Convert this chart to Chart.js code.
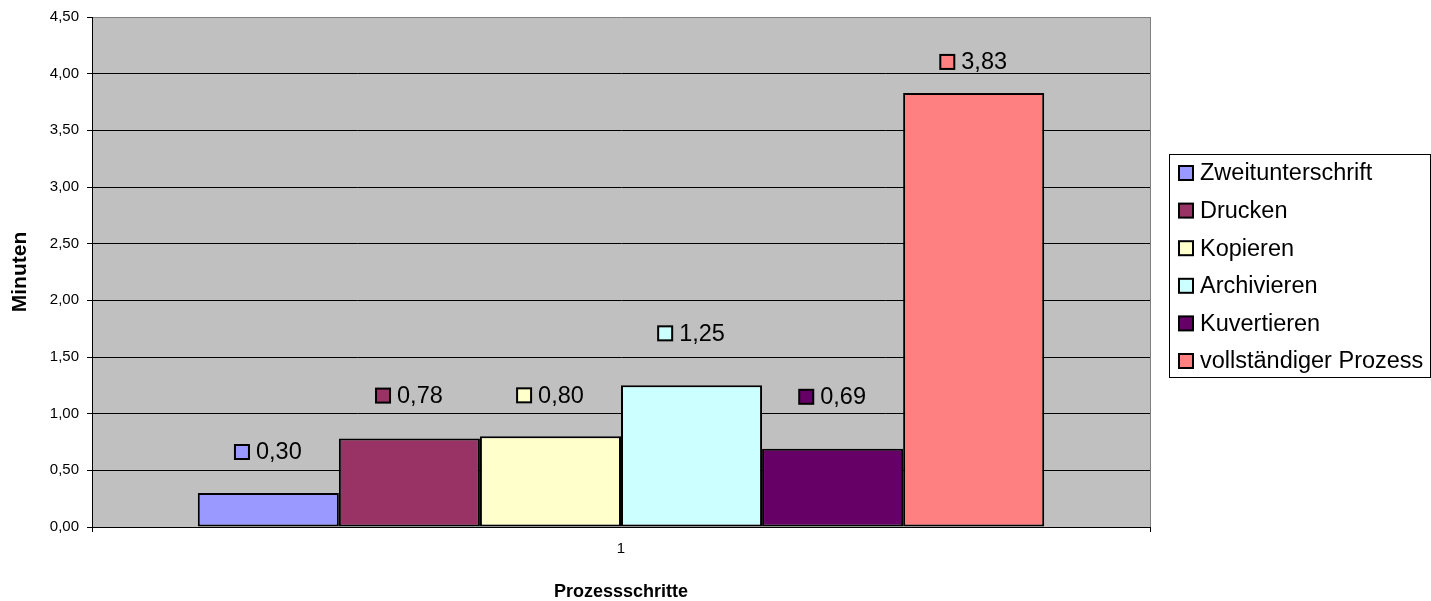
<!DOCTYPE html>
<html>
<head>
<meta charset="utf-8">
<script src="https://cdn.jsdelivr.net/npm/chart.js@4/dist/chart.umd.min.js"></script>
<style>
  html, body { margin: 0; padding: 0; background: #ffffff; }
  #wrap { width: 1431px; height: 601px; }
</style>
</head>
<body>
<div id="wrap"><canvas id="c" width="1431" height="601"></canvas></div>
<script>
const categories = ['1'];
const seriesNames = ['Zweitunterschrift', 'Drucken', 'Kopieren', 'Archivieren', 'Kuvertieren', 'vollständiger Prozess'];
const seriesValues = [0.30, 0.78, 0.80, 1.25, 0.69, 3.83];
const seriesColors = ['#9999FF', '#993366', '#FFFFCC', '#CCFFFF', '#660066', '#FF8080'];
const yTicks = [0, 0.5, 1, 1.5, 2, 2.5, 3, 3.5, 4, 4.5];
const yTitle = 'Minuten';
const xTitle = 'Prozessschritte';

const FONT = '"Liberation Sans", Arial, sans-serif';
const fmt = v => v.toFixed(2).replace('.', ',');

const datasets = seriesNames.map((name, i) => ({
  label: name,
  data: [seriesValues[i]],
  backgroundColor: seriesColors[i],
  borderColor: '#000000',
  borderWidth: 2,
  borderSkipped: false,
  categoryPercentage: 0.8,
  barPercentage: 1.0
}));

const plotBg = {
  id: 'plotBg',
  beforeDraw(chart) {
    const {ctx, chartArea: a} = chart;
    ctx.save();
    ctx.fillStyle = '#C0C0C0';
    ctx.fillRect(a.left, a.top, a.right - a.left, a.bottom - a.top);
    ctx.restore();
  }
};

const valueLabels = {
  id: 'valueLabels',
  afterDatasetsDraw(chart, args, opts) {
    const ctx = chart.ctx;
    ctx.save();
    ctx.font = '23.5px ' + FONT;
    ctx.textBaseline = 'middle';
    ctx.textAlign = 'left';
    chart.data.datasets.forEach((ds, i) => {
      const meta = chart.getDatasetMeta(i);
      meta.data.forEach((bar, j) => {
        const txt = fmt(ds.data[j]);
        const tw = ctx.measureText(txt).width;
        const sq = 14, gap = 7;
        const total = sq + gap + tw;
        const x0 = bar.x - total / 2;
        const yc = bar.y - (opts.offsets[i] || 40);
        ctx.fillStyle = ds.backgroundColor;
        ctx.fillRect(x0, yc - sq / 2, sq, sq);
        ctx.strokeStyle = '#000';
        ctx.lineWidth = 2;
        ctx.strokeRect(x0, yc - sq / 2, sq, sq);
        ctx.fillStyle = '#000';
        ctx.fillText(txt, x0 + sq + gap, yc + 1);
      });
    });
    ctx.restore();
  }
};

const boxLegend = {
  id: 'boxLegend',
  afterDraw(chart, args, opts) {
    const ctx = chart.ctx;
    ctx.save();
    ctx.strokeStyle = '#000';
    ctx.lineWidth = 1;
    ctx.strokeRect(opts.left + 0.5, opts.top + 0.5, opts.width, opts.height);
    ctx.font = '23.5px ' + FONT;
    ctx.textBaseline = 'middle';
    ctx.textAlign = 'left';
    chart.data.datasets.forEach((ds, i) => {
      const yc = opts.firstY + i * opts.step;
      const sq = 14;
      const x = opts.left + 10;
      ctx.fillStyle = ds.backgroundColor;
      ctx.fillRect(x, yc - sq / 2, sq, sq);
      ctx.strokeStyle = '#000';
      ctx.lineWidth = 2;
      ctx.strokeRect(x, yc - sq / 2, sq, sq);
      ctx.fillStyle = '#000';
      ctx.fillText(ds.label, x + sq + 7, yc + 1);
    });
    ctx.restore();
  }
};

new Chart(document.getElementById('c'), {
  type: 'bar',
  data: { labels: categories, datasets },
  plugins: [plotBg, valueLabels, boxLegend],
  options: {
    responsive: false,
    animation: false,
    layout: { padding: { top: 16, right: 281, bottom: 0, left: 0 } },
    plugins: {
      legend: { display: false },
      tooltip: { enabled: false },
      valueLabels: { offsets: [41, 43, 41, 52, 52, 31] },
      boxLegend: { left: 1169, top: 154, width: 261, height: 223, firstY: 173, step: 37.6 }
    },
    scales: {
      x: {
        offset: true,
        afterFit(scale) { scale.height = 74; },
        grid: {
          offset: true,
          display: true,
          drawOnChartArea: true,
          color: ctx => ctx.index === 0 ? '#000000' : '#808080',
          tickColor: '#000000',
          tickLength: 5,
          lineWidth: 1
        },
        border: { display: true, color: '#000000', width: 1 },
        ticks: {
          color: '#000',
          font: { family: FONT, size: 15 },
          padding: 8
        },
        title: {
          display: true,
          text: xTitle,
          color: '#000',
          font: { family: FONT, size: 18, weight: 'bold', lineHeight: 1.0 },
          padding: { top: 0, bottom: 0 }
        }
      },
      y: {
        min: 0,
        max: 4.5,
        afterFit(scale) { scale.width = 92; },
        afterBuildTicks(scale) { scale.ticks = yTicks.map(v => ({ value: v })); },
        grid: {
          color: ctx => (ctx.tick && ctx.tick.value === 4.5) ? '#808080' : '#000000',
          tickColor: '#000000',
          tickLength: 5,
          lineWidth: 1
        },
        border: { display: true, color: '#000000', width: 1 },
        ticks: {
          color: '#000',
          font: { family: FONT, size: 15 },
          padding: 8,
          callback: v => fmt(v)
        },
        title: {
          display: true,
          text: yTitle,
          color: '#000',
          font: { family: FONT, size: 21, weight: 'bold', lineHeight: 1.2 },
          padding: { top: 8, bottom: 0 }
        }
      }
    }
  }
});
</script>
</body>
</html>
